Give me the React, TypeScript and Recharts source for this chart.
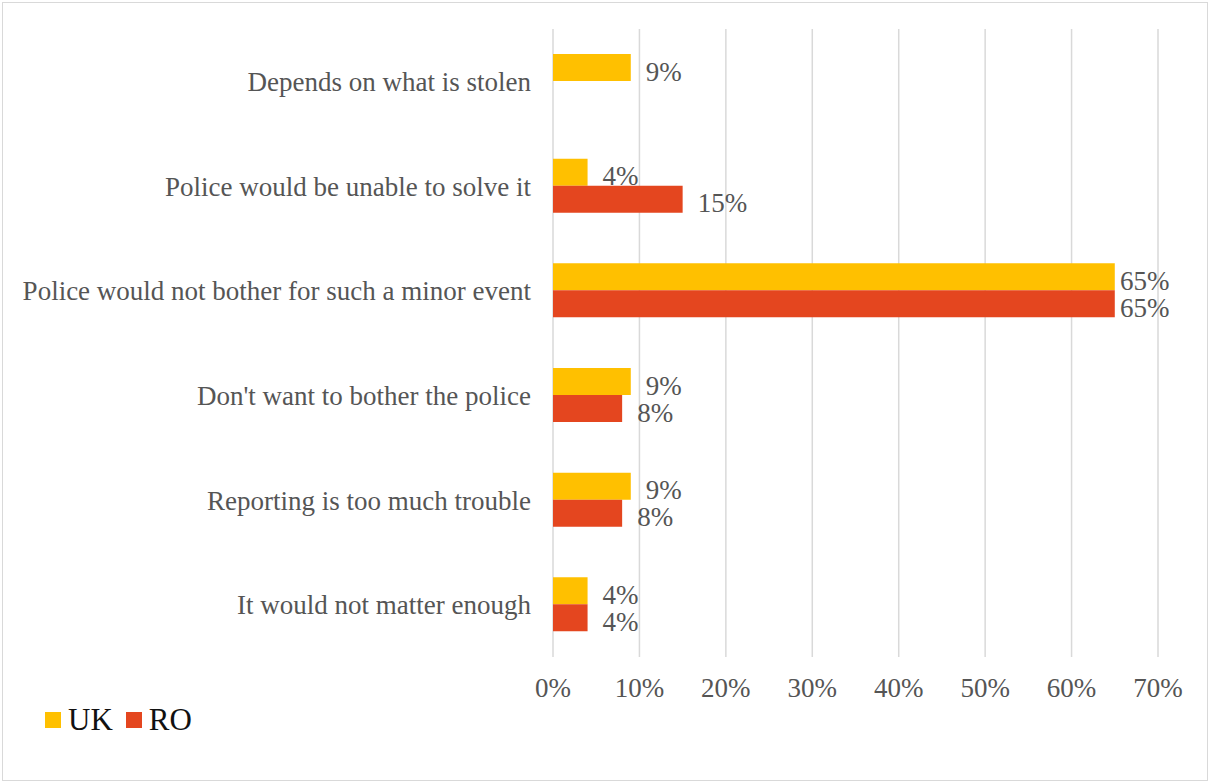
import { BarChart, Bar, XAxis, YAxis, CartesianGrid, LabelList } from 'recharts'

const categories = [
  'Depends on what is stolen',
  'Police would be unable to solve it',
  'Police would not bother for such a minor event',
  "Don't want to bother the police",
  'Reporting is too much trouble',
  'It would not matter enough',
]
const ukValues = [9, 4, 65, 9, 9, 4]
const roValues: (number | null)[] = [null, 15, 65, 8, 8, 4]
const xTicks = [0, 10, 20, 30, 40, 50, 60, 70]

const data = categories.map((category, i) => ({
  category,
  UK: ukValues[i],
  RO: roValues[i],
}))

const UK_COLOR = '#FFC000'
const RO_COLOR = '#E4461F'
const FONT = '"Liberation Serif", "Times New Roman", serif'
const TEXT_GRAY = '#555555'
const WIDTH = 1210
const HEIGHT = 783
const PLOT_RIGHT = 1158

const ValueLabel = (props: any) => {
  const { x, y, width, height, value } = props
  if (value == null) return null
  const lx = Math.min(x + width + 15, PLOT_RIGHT - 38)
  return (
    <text
      x={lx}
      y={y + height / 2 + 13}
      fill={TEXT_GRAY}
      fontSize={27}
      fontFamily={FONT}
      textAnchor="start"
    >
      {value}%
    </text>
  )
}

export default function App() {
  return (
    <div style={{ position: 'absolute', left: 0, top: 0, width: WIDTH, height: HEIGHT, background: '#fff' }}>
      <div
        style={{
          position: 'absolute',
          left: 2,
          top: 2,
          width: 1204,
          height: 777,
          border: '1px solid #d9d9d9',
        }}
      />
      <BarChart
        width={WIDTH}
        height={HEIGHT}
        data={data}
        layout="vertical"
        margin={{ top: 29, right: WIDTH - PLOT_RIGHT, left: 0, bottom: 66 }}
        barSize={27}
        barGap={0}
      >
        <CartesianGrid horizontal={false} stroke="#d9d9d9" strokeWidth={1.5} />
        <XAxis
          type="number"
          domain={[0, 70]}
          ticks={xTicks}
          tickFormatter={(v) => `${v}%`}
          axisLine={false}
          tickLine={false}
          tickSize={0}
          tickMargin={21}
          height={60}
          tick={{ fill: TEXT_GRAY, fontSize: 27, fontFamily: FONT }}
          interval={0}
        />
        <YAxis
          type="category"
          dataKey="category"
          width={553}
          axisLine={false}
          tickLine={false}
          tickSize={0}
          tickMargin={22}
          interval={0}
          tick={{ fill: TEXT_GRAY, fontSize: 27, fontFamily: FONT }}
        />
        <Bar dataKey="UK" fill={UK_COLOR} isAnimationActive={false}>
          <LabelList dataKey="UK" content={ValueLabel} />
        </Bar>
        <Bar dataKey="RO" fill={RO_COLOR} isAnimationActive={false}>
          <LabelList dataKey="RO" content={ValueLabel} />
        </Bar>
      </BarChart>
      <div
        style={{
          position: 'absolute',
          left: 45,
          top: 701,
          display: 'flex',
          alignItems: 'center',
          fontFamily: FONT,
          fontSize: 31,
          color: '#111',
          lineHeight: '38px',
        }}
      >
        <span style={{ width: 16, height: 16, background: UK_COLOR, display: 'inline-block', marginRight: 7 }} />
        <span style={{ marginRight: 13 }}>UK</span>
        <span style={{ width: 16, height: 16, background: RO_COLOR, display: 'inline-block', marginRight: 7 }} />
        <span>RO</span>
      </div>
    </div>
  )
}
